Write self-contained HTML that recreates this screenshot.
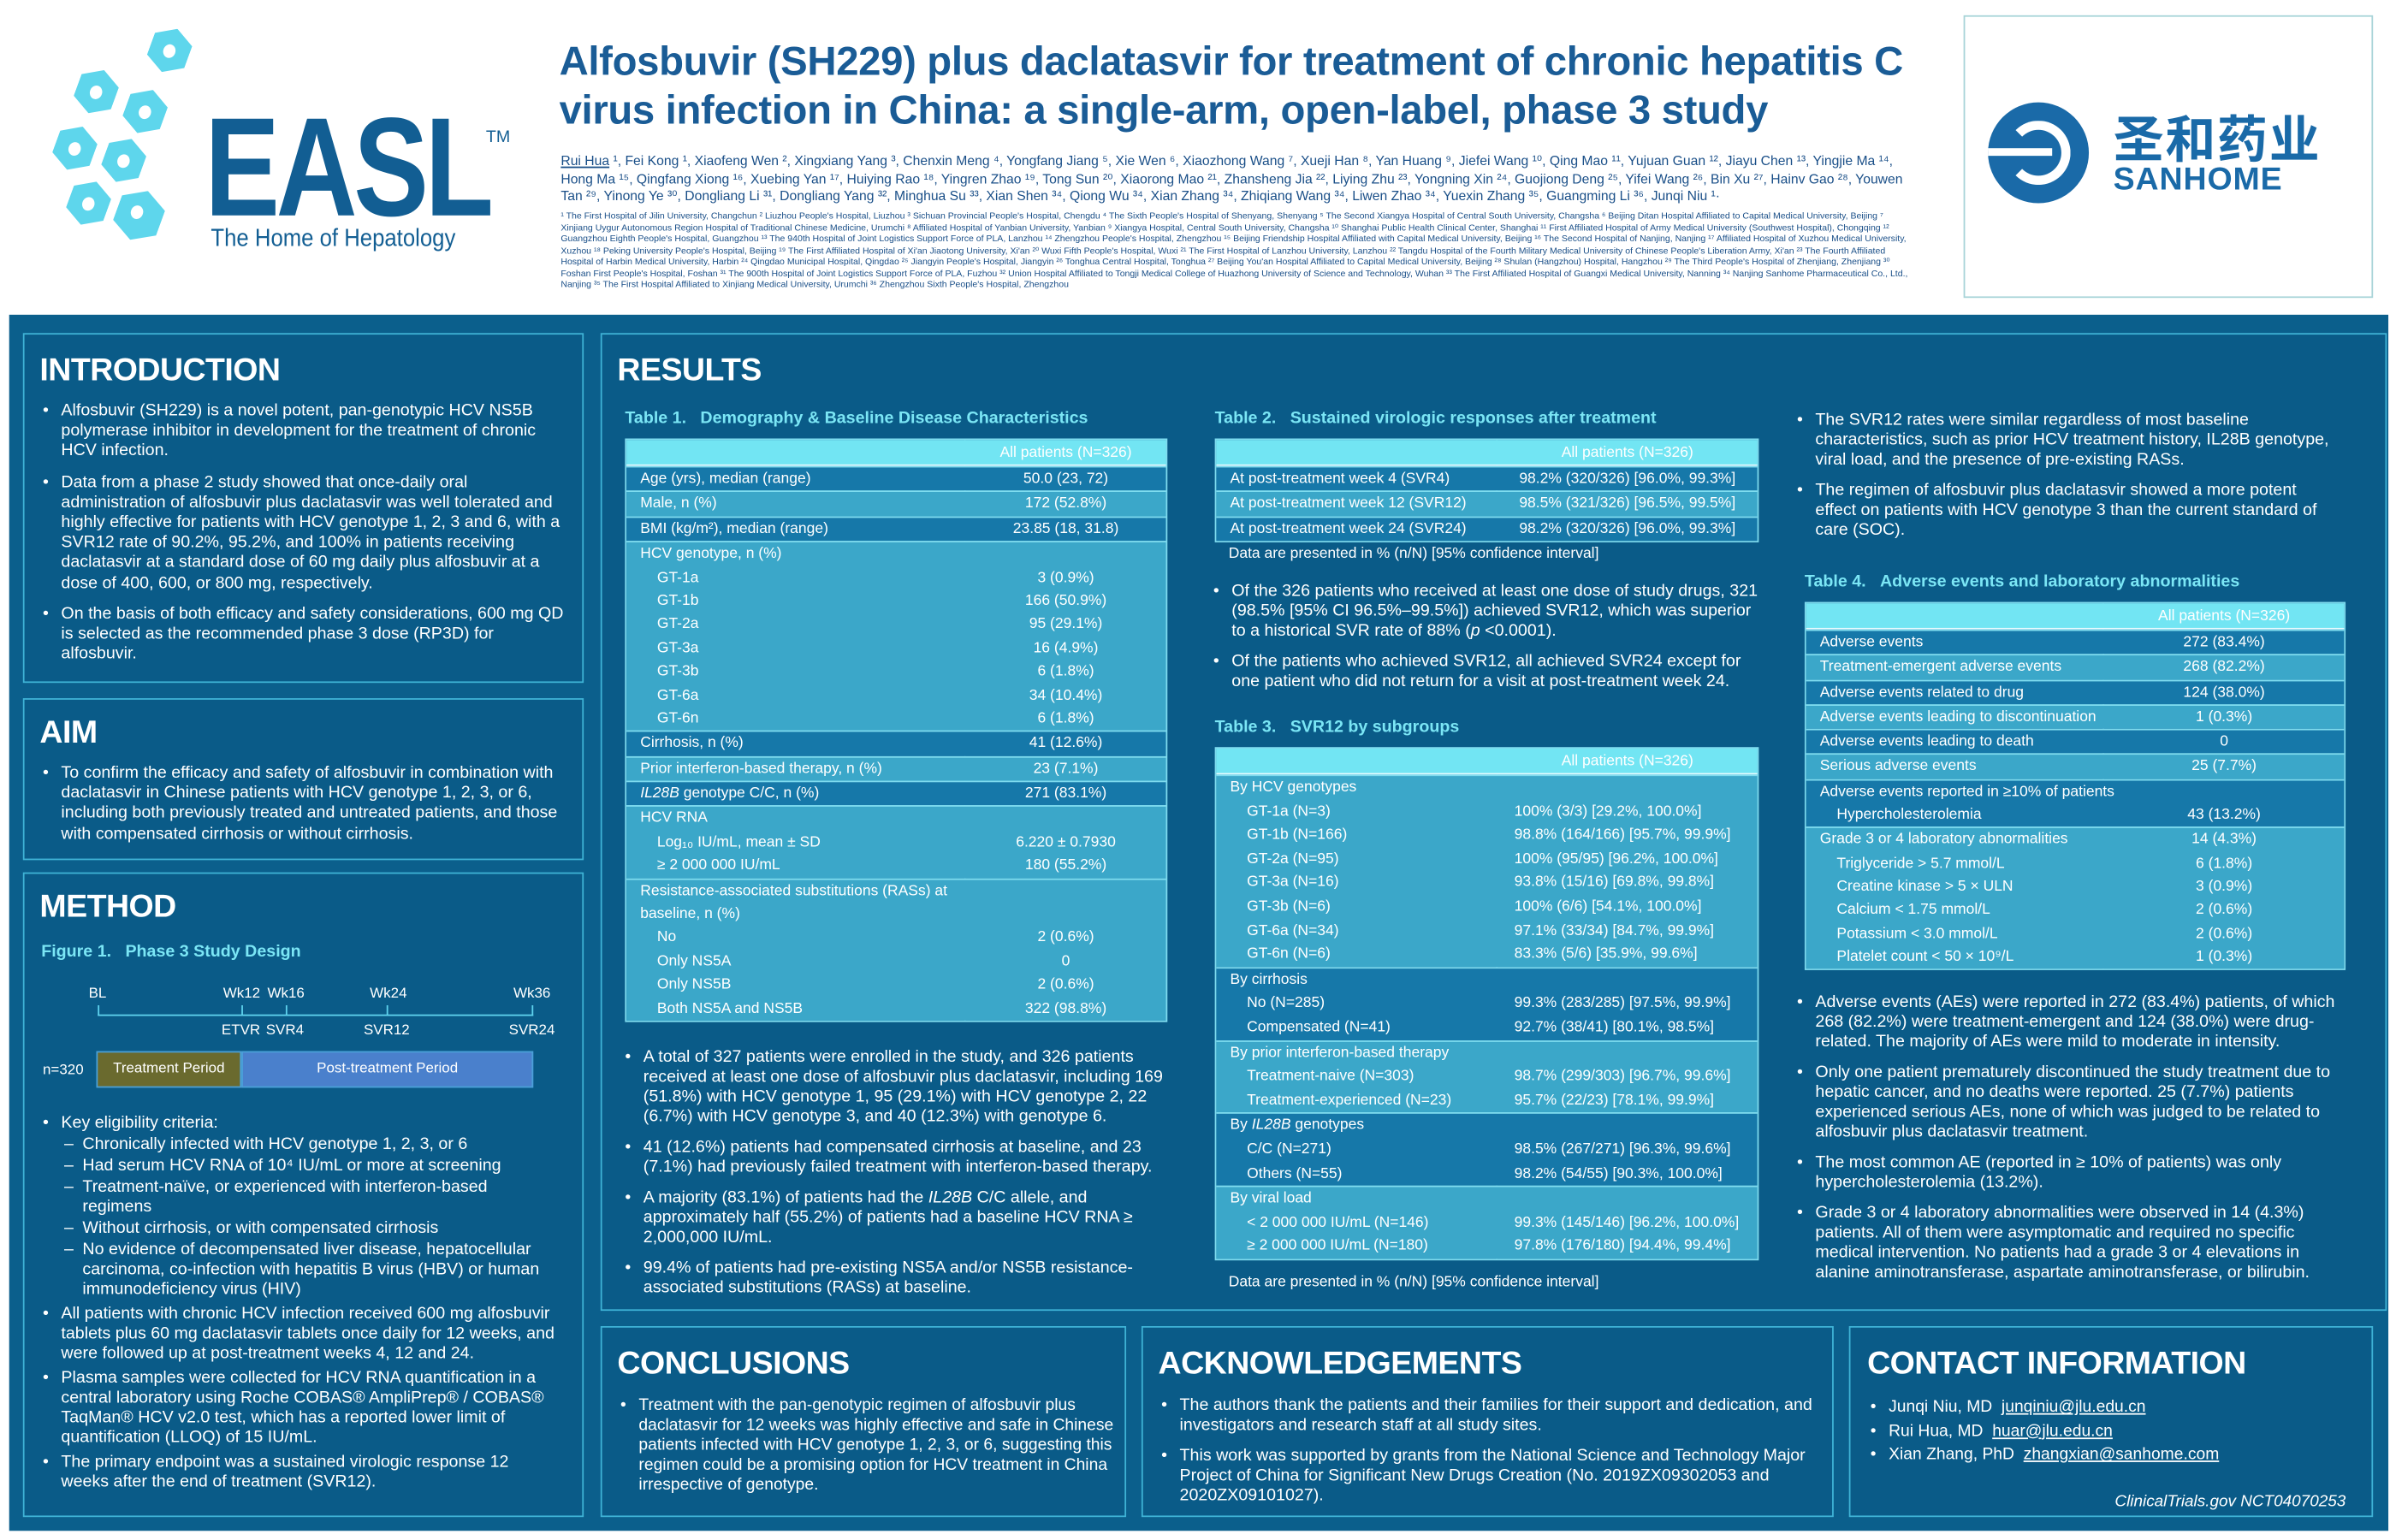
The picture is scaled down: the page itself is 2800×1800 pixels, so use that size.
<!DOCTYPE html>
<html><head><meta charset="utf-8"><style>
*{margin:0;padding:0;box-sizing:border-box}
html,body{width:2800px;height:1799px;overflow:hidden;background:#fff}
#s{position:absolute;left:0;top:0;width:1568px;height:1008px;transform:scale(1.7857);transform-origin:0 0;font-family:"Liberation Sans","Noto Sans CJK SC",sans-serif}
.a{position:absolute}
.panel{position:absolute;border:1px solid #3fb3d6;background:#0a5b88}
.h{position:absolute;color:#fff;font-weight:bold;font-size:21px;letter-spacing:-0.3px}
.cap{position:absolute;color:#7be6f5;font-weight:bold;font-size:11px}
.txt{position:absolute;color:#fff;font-size:11px;line-height:13.2px}
.txt ul{list-style:none}
.txt li{position:relative;padding-left:14px;margin-bottom:7px}
.txt li:before{content:"•";position:absolute;left:2px}
.txt li.sub{padding-left:28px;margin-bottom:1px}
.txt li.sub:before{content:"–";left:16px}
.tb{position:absolute;border:1px solid #7fdcef;font-size:9.8px;color:#fff}
.tb .hd{height:17px;background:#72e5f3;border-bottom:1px solid #e8fbff;position:relative}
.tb .g{position:relative;border-top:1px solid #7fdcef}
.tb .g.d{background:#1678a9}.tb .g.l{background:#3ba7c9}
.tb .r{height:var(--rh,16px);line-height:var(--rh,16px);position:relative;white-space:nowrap}
.tb .r span{position:absolute;left:9px}
.tb .r span.i{left:20px}
.tb .r b{position:absolute;font-weight:normal;text-align:center}
.vl{position:absolute;top:0;bottom:0;width:1px;background:#7fdcef}
.hex{position:absolute;width:26px;height:30px;background:#5ed6ec;clip-path:polygon(50% 0,100% 25%,100% 75%,50% 100%,0 75%,0 25%)}
.hex:after{content:"";position:absolute;left:9px;top:11px;width:8px;height:9px;border-radius:50%;background:#fff}
</style></head><body><div id="s">
<!-- header -->
<div class="hex" style="left:98px;top:18px;transform:rotate(20deg)"></div>
<div class="hex" style="left:50px;top:45px;transform:rotate(20deg)"></div>
<div class="hex" style="left:82px;top:58px;transform:rotate(20deg)"></div>
<div class="hex" style="left:36px;top:82px;transform:rotate(20deg)"></div>
<div class="hex" style="left:68px;top:90px;transform:rotate(20deg)"></div>
<div class="hex" style="left:45px;top:118px;transform:rotate(20deg)"></div>
<div class="hex" style="left:76px;top:124px;transform:rotate(20deg);width:30px;height:34px"></div>
<div class="a" style="left:134px;top:62px;font-size:92px;font-weight:bold;color:#125e93;letter-spacing:-3px;transform:scaleX(0.8);transform-origin:0 0;line-height:96px">EASL</div>
<div class="a" style="left:318px;top:84px;font-size:11px;color:#125e93">TM</div>
<div class="a" style="left:138px;top:148px;font-size:16px;color:#125e93;transform:scaleX(0.9);transform-origin:0 0">The Home of Hepatology</div>
<div class="a" style="left:366px;top:24px;font-size:26.5px;font-weight:bold;color:#1a5c96;line-height:32px;letter-spacing:-0.2px">Alfosbuvir (SH229) plus daclatasvir for treatment of chronic hepatitis C<br>virus infection in China: a single-arm, open-label, phase 3 study</div>
<div class="a" style="left:367px;top:100px;width:880px;font-size:8.8px;line-height:11.5px;color:#1a4f88"><u>Rui Hua</u> ¹, Fei Kong ¹, Xiaofeng Wen ², Xingxiang Yang ³, Chenxin Meng ⁴, Yongfang Jiang ⁵, Xie Wen ⁶, Xiaozhong Wang ⁷, Xueji Han ⁸, Yan Huang ⁹, Jiefei Wang ¹⁰, Qing Mao ¹¹, Yujuan Guan ¹², Jiayu Chen ¹³, Yingjie Ma ¹⁴, Hong Ma ¹⁵, Qingfang Xiong ¹⁶, Xuebing Yan ¹⁷, Huiying Rao ¹⁸, Yingren Zhao ¹⁹, Tong Sun ²⁰, Xiaorong Mao ²¹, Zhansheng Jia ²², Liying Zhu ²³, Yongning Xin ²⁴, Guojiong Deng ²⁵, Yifei Wang ²⁶, Bin Xu ²⁷, Hainv Gao ²⁸, Youwen Tan ²⁹, Yinong Ye ³⁰, Dongliang Li ³¹, Dongliang Yang ³², Minghua Su ³³, Xian Shen ³⁴, Qiong Wu ³⁴, Xian Zhang ³⁴, Zhiqiang Wang ³⁴, Liwen Zhao ³⁴, Yuexin Zhang ³⁵, Guangming Li ³⁶, Junqi Niu ¹·</div>
<div class="a" style="left:367px;top:139px;width:885px;font-size:5.9px;line-height:7.5px;color:#1a4f88">¹ The First Hospital of Jilin University, Changchun ² Liuzhou People's Hospital, Liuzhou ³ Sichuan Provincial People's Hospital, Chengdu ⁴ The Sixth People's Hospital of Shenyang, Shenyang ⁵ The Second Xiangya Hospital of Central South University, Changsha ⁶ Beijing Ditan Hospital Affiliated to Capital Medical University, Beijing ⁷ Xinjiang Uygur Autonomous Region Hospital of Traditional Chinese Medicine, Urumchi ⁸ Affiliated Hospital of Yanbian University, Yanbian ⁹ Xiangya Hospital, Central South University, Changsha ¹⁰ Shanghai Public Health Clinical Center, Shanghai ¹¹ First Affiliated Hospital of Army Medical University (Southwest Hospital), Chongqing ¹² Guangzhou Eighth People's Hospital, Guangzhou ¹³ The 940th Hospital of Joint Logistics Support Force of PLA, Lanzhou ¹⁴ Zhengzhou People's Hospital, Zhengzhou ¹⁵ Beijing Friendship Hospital Affiliated with Capital Medical University, Beijing ¹⁶ The Second Hospital of Nanjing, Nanjing ¹⁷ Affiliated Hospital of Xuzhou Medical University, Xuzhou ¹⁸ Peking University People's Hospital, Beijing ¹⁹ The First Affiliated Hospital of Xi'an Jiaotong University, Xi'an ²⁰ Wuxi Fifth People's Hospital, Wuxi ²¹ The First Hospital of Lanzhou University, Lanzhou ²² Tangdu Hospital of the Fourth Military Medical University of Chinese People's Liberation Army, Xi'an ²³ The Fourth Affiliated Hospital of Harbin Medical University, Harbin ²⁴ Qingdao Municipal Hospital, Qingdao ²⁵ Jiangyin People's Hospital, Jiangyin ²⁶ Tonghua Central Hospital, Tonghua ²⁷ Beijing You'an Hospital Affiliated to Capital Medical University, Beijing ²⁸ Shulan (Hangzhou) Hospital, Hangzhou ²⁹ The Third People's Hospital of Zhenjiang, Zhenjiang ³⁰ Foshan First People's Hospital, Foshan ³¹ The 900th Hospital of Joint Logistics Support Force of PLA, Fuzhou ³² Union Hospital Affiliated to Tongji Medical College of Huazhong University of Science and Technology, Wuhan ³³ The First Affiliated Hospital of Guangxi Medical University, Nanning ³⁴ Nanjing Sanhome Pharmaceutical Co., Ltd., Nanjing ³⁵ The First Hospital Affiliated to Xinjiang Medical University, Urumchi ³⁶ Zhengzhou Sixth People's Hospital, Zhengzhou</div>
<div class="a" style="left:1285px;top:10px;width:268px;height:185px;border:1px solid #a8d4d8;background:#fff"></div>
<div class="a" style="left:1301px;top:67px;width:66px;height:66px;border-radius:50%;background:#1a6aa8"></div>
<div class="a" style="left:1313px;top:79px;width:42px;height:42px;border-radius:50%;border:6px solid #fff;border-left-color:transparent"></div>
<div class="a" style="left:1301px;top:97px;width:42px;height:5px;background:#fff"></div>
<div class="a" style="left:1383px;top:70px;font-size:33px;font-weight:bold;color:#1a6aa8;line-height:38px;letter-spacing:1px;font-family:'Noto Sans CJK SC',sans-serif">圣和药业</div>
<div class="a" style="left:1383px;top:106px;font-size:21px;font-weight:bold;color:#1a6aa8;letter-spacing:0.5px">SANHOME</div>
<!-- body -->
<div class="a" style="left:6px;top:206px;width:1557px;height:796px;background:#0b5f8c"></div>
<div class="panel" style="left:15px;top:218px;width:367px;height:229px"></div>
<div class="panel" style="left:15px;top:457px;width:367px;height:106px"></div>
<div class="panel" style="left:15px;top:571px;width:367px;height:422px"></div>
<div class="panel" style="left:393px;top:218px;width:1169px;height:640px"></div>
<div class="panel" style="left:393px;top:868px;width:344px;height:125px"></div>
<div class="panel" style="left:747px;top:868px;width:453px;height:125px"></div>
<div class="panel" style="left:1210px;top:868px;width:343px;height:125px"></div>

<div class="h" style="left:26px;top:231px">INTRODUCTION</div>
<div class="txt" style="left:26px;top:263px;width:345px"><ul>
<li>Alfosbuvir (SH229) is a novel potent, pan-genotypic HCV NS5B polymerase inhibitor in development for the treatment of chronic HCV infection.</li>
<li>Data from a phase 2 study showed that once-daily oral administration of alfosbuvir plus daclatasvir was well tolerated and highly effective for patients with HCV genotype 1, 2, 3 and 6, with a SVR12 rate of 90.2%, 95.2%, and 100% in patients receiving daclatasvir at a standard dose of 60 mg daily plus alfosbuvir at a dose of 400, 600, or 800 mg, respectively.</li>
<li>On the basis of both efficacy and safety considerations, 600 mg QD is selected as the recommended phase 3 dose (RP3D) for alfosbuvir.</li></ul></div>
<div class="h" style="left:26px;top:468px">AIM</div>
<div class="txt" style="left:26px;top:500px;width:345px"><ul><li>To confirm the efficacy and safety of alfosbuvir in combination with daclatasvir in Chinese patients with HCV genotype 1, 2, 3, or 6, including both previously treated and untreated patients, and those with compensated cirrhosis or without cirrhosis.</li></ul></div>
<div class="h" style="left:26px;top:582px">METHOD</div>
<div class="cap" style="left:27px;top:617px">Figure 1.&nbsp;&nbsp;&nbsp;Phase 3 Study Design</div>
<div class="a" style="left:15px;top:640px;width:367px;height:80px;font-size:9.5px;color:#fff">
<span class="a" style="left:43px;top:5px">BL</span><span class="a" style="left:131px;top:5px">Wk12</span><span class="a" style="left:160px;top:5px">Wk16</span><span class="a" style="left:227px;top:5px">Wk24</span><span class="a" style="left:321px;top:5px">Wk36</span>
<div class="a" style="left:49px;top:24px;width:285px;height:1px;background:#5fd3ee"></div>
<div class="a" style="left:49px;top:18px;width:1px;height:7px;background:#5fd3ee"></div>
<div class="a" style="left:143px;top:18px;width:1px;height:7px;background:#5fd3ee"></div>
<div class="a" style="left:172px;top:18px;width:1px;height:7px;background:#5fd3ee"></div>
<div class="a" style="left:238px;top:18px;width:1px;height:7px;background:#5fd3ee"></div>
<div class="a" style="left:333px;top:18px;width:1px;height:7px;background:#5fd3ee"></div>
<span class="a" style="left:130px;top:29px">ETVR</span><span class="a" style="left:159px;top:29px">SVR4</span><span class="a" style="left:223px;top:29px">SVR12</span><span class="a" style="left:318px;top:29px">SVR24</span>
<span class="a" style="left:13px;top:55px">n=320</span>
<div class="a" style="left:48px;top:48px;width:95px;height:24px;background:#6a6a2e;border:1px solid #4aa0d8;text-align:center;line-height:22px">Treatment Period</div>
<div class="a" style="left:143px;top:48px;width:191px;height:24px;background:#4a80cc;border:1px solid #4aa0d8;text-align:center;line-height:22px">Post-treatment Period</div></div>
<div class="txt" style="left:26px;top:729px;width:340px;font-size:11px;line-height:13px"><ul>
<li style="margin-bottom:1px">Key eligibility criteria:</li>
<li class="sub">Chronically infected with HCV genotype 1, 2, 3, or 6</li>
<li class="sub">Had serum HCV RNA of 10⁴ IU/mL or more at screening</li>
<li class="sub">Treatment-naïve, or experienced with interferon-based regimens</li>
<li class="sub">Without cirrhosis, or with compensated cirrhosis</li>
<li class="sub" style="margin-bottom:3px">No evidence of decompensated liver disease, hepatocellular carcinoma, co-infection with hepatitis B virus (HBV) or human immunodeficiency virus (HIV)</li>
<li style="margin-bottom:3px">All patients with chronic HCV infection received 600 mg alfosbuvir tablets plus 60 mg daclatasvir tablets once daily for 12 weeks, and were followed up at post-treatment weeks 4, 12 and 24.</li>
<li style="margin-bottom:3px">Plasma samples were collected for HCV RNA quantification in a central laboratory using Roche COBAS® AmpliPrep® / COBAS® TaqMan® HCV v2.0 test, which has a reported lower limit of quantification (LLOQ) of 15 IU/mL.</li>
<li>The primary endpoint was a sustained virologic response 12 weeks after the end of treatment (SVR12).</li></ul></div>

<div class="h" style="left:404px;top:231px">RESULTS</div>
<div class="cap" style="left:409px;top:268px">Table 1.&nbsp;&nbsp;&nbsp;Demography &amp; Baseline Disease Characteristics</div>
<div class="tb" style="left:409px;top:287px;width:355px;--rh:15.4px">
<div class="vl" style="left:221px"></div>
<div class="hd"><b class="a" style="left:221px;width:133px;text-align:center;top:3px;font-weight:normal">All patients (N=326)</b></div>
<div class="g d"><div class="r"><span>Age (yrs), median (range)</span><b style="left:221px;width:133px">50.0 (23, 72)</b></div></div>
<div class="g l"><div class="r"><span>Male, n (%)</span><b style="left:221px;width:133px">172 (52.8%)</b></div></div>
<div class="g d"><div class="r"><span>BMI (kg/m²), median (range)</span><b style="left:221px;width:133px">23.85 (18, 31.8)</b></div></div>
<div class="g l"><div class="r"><span>HCV genotype, n (%)</span></div>
<div class="r"><span class="i">GT-1a</span><b style="left:221px;width:133px">3 (0.9%)</b></div>
<div class="r"><span class="i">GT-1b</span><b style="left:221px;width:133px">166 (50.9%)</b></div>
<div class="r"><span class="i">GT-2a</span><b style="left:221px;width:133px">95 (29.1%)</b></div>
<div class="r"><span class="i">GT-3a</span><b style="left:221px;width:133px">16 (4.9%)</b></div>
<div class="r"><span class="i">GT-3b</span><b style="left:221px;width:133px">6 (1.8%)</b></div>
<div class="r"><span class="i">GT-6a</span><b style="left:221px;width:133px">34 (10.4%)</b></div>
<div class="r"><span class="i">GT-6n</span><b style="left:221px;width:133px">6 (1.8%)</b></div></div>
<div class="g d"><div class="r"><span>Cirrhosis, n (%)</span><b style="left:221px;width:133px">41 (12.6%)</b></div></div>
<div class="g l"><div class="r"><span>Prior interferon-based therapy, n (%)</span><b style="left:221px;width:133px">23 (7.1%)</b></div></div>
<div class="g d"><div class="r"><span><i>IL28B</i> genotype C/C, n (%)</span><b style="left:221px;width:133px">271 (83.1%)</b></div></div>
<div class="g l"><div class="r"><span>HCV RNA</span></div>
<div class="r"><span class="i">Log₁₀ IU/mL, mean ± SD</span><b style="left:221px;width:133px">6.220 ± 0.7930</b></div>
<div class="r"><span class="i">≥ 2 000 000 IU/mL</span><b style="left:221px;width:133px">180 (55.2%)</b></div></div>
<div class="g l"><div class="r"><span>Resistance-associated substitutions (RASs) at</span></div><div class="r"><span>baseline, n (%)</span></div>
<div class="r"><span class="i">No</span><b style="left:221px;width:133px">2 (0.6%)</b></div>
<div class="r"><span class="i">Only NS5A</span><b style="left:221px;width:133px">0</b></div>
<div class="r"><span class="i">Only NS5B</span><b style="left:221px;width:133px">2 (0.6%)</b></div>
<div class="r"><span class="i">Both NS5A and NS5B</span><b style="left:221px;width:133px">322 (98.8%)</b></div></div>
</div>
<div class="txt" style="left:407px;top:686px;width:356px;font-size:11px;line-height:13px"><ul>
<li>A total of 327 patients were enrolled in the study, and 326 patients received at least one dose of alfosbuvir plus daclatasvir, including 169 (51.8%) with HCV genotype 1, 95 (29.1%) with HCV genotype 2, 22 (6.7%) with HCV genotype 3, and 40 (12.3%) with genotype 6.</li>
<li>41 (12.6%) patients had compensated cirrhosis at baseline, and 23 (7.1%) had previously failed treatment with interferon-based therapy.</li>
<li>A majority (83.1%) of patients had the <i>IL28B</i> C/C allele, and approximately half (55.2%) of patients had a baseline HCV RNA ≥ 2,000,000 IU/mL.</li>
<li>99.4% of patients had pre-existing NS5A and/or NS5B resistance-associated substitutions (RASs) at baseline.</li></ul></div>

<div class="cap" style="left:795px;top:268px">Table 2.&nbsp;&nbsp;&nbsp;Sustained virologic responses after treatment</div>
<div class="tb" style="left:795px;top:287px;width:356px;--rh:15.4px">
<div class="vl" style="left:183px"></div>
<div class="hd"><b class="a" style="left:183px;width:172px;text-align:center;top:3px;font-weight:normal">All patients (N=326)</b></div>
<div class="g d"><div class="r"><span>At post-treatment week 4 (SVR4)</span><b style="left:183px;width:172px">98.2% (320/326) [96.0%, 99.3%]</b></div></div>
<div class="g l"><div class="r"><span>At post-treatment week 12 (SVR12)</span><b style="left:183px;width:172px">98.5% (321/326) [96.5%, 99.5%]</b></div></div>
<div class="g d"><div class="r"><span>At post-treatment week 24 (SVR24)</span><b style="left:183px;width:172px">98.2% (320/326) [96.0%, 99.3%]</b></div></div></div>
<div class="a" style="left:804px;top:357px;font-size:9.8px;color:#fff">Data are presented in % (n/N) [95% confidence interval]</div>
<div class="txt" style="left:792px;top:381px;width:362px;font-size:11px;line-height:13px"><ul>
<li>Of the 326 patients who received at least one dose of study drugs, 321 (98.5% [95% CI 96.5%–99.5%]) achieved SVR12, which was superior to a historical SVR rate of 88% (<i>p</i> &lt;0.0001).</li>
<li>Of the patients who achieved SVR12, all achieved SVR24 except for one patient who did not return for a visit at post-treatment week 24.</li></ul></div>

<div class="cap" style="left:795px;top:470px">Table 3.&nbsp;&nbsp;&nbsp;SVR12 by subgroups</div>
<div class="tb" style="left:795px;top:489px;width:356px;--rh:15.6px">
<div class="vl" style="left:183px"></div>
<div class="hd"><b class="a" style="left:183px;width:172px;text-align:center;top:3px;font-weight:normal">All patients (N=326)</b></div>
<div class="g l"><div class="r"><span>By HCV genotypes</span></div>
<div class="r"><span class="i">GT-1a (N=3)</span><b style="left:183px;width:172px;text-align:left;padding-left:12px">100% (3/3) [29.2%, 100.0%]</b></div>
<div class="r"><span class="i">GT-1b (N=166)</span><b style="left:183px;width:172px;text-align:left;padding-left:12px">98.8% (164/166) [95.7%, 99.9%]</b></div>
<div class="r"><span class="i">GT-2a (N=95)</span><b style="left:183px;width:172px;text-align:left;padding-left:12px">100% (95/95) [96.2%, 100.0%]</b></div>
<div class="r"><span class="i">GT-3a (N=16)</span><b style="left:183px;width:172px;text-align:left;padding-left:12px">93.8% (15/16) [69.8%, 99.8%]</b></div>
<div class="r"><span class="i">GT-3b (N=6)</span><b style="left:183px;width:172px;text-align:left;padding-left:12px">100% (6/6) [54.1%, 100.0%]</b></div>
<div class="r"><span class="i">GT-6a (N=34)</span><b style="left:183px;width:172px;text-align:left;padding-left:12px">97.1% (33/34) [84.7%, 99.9%]</b></div>
<div class="r"><span class="i">GT-6n (N=6)</span><b style="left:183px;width:172px;text-align:left;padding-left:12px">83.3% (5/6) [35.9%, 99.6%]</b></div></div>
<div class="g d"><div class="r"><span>By cirrhosis</span></div>
<div class="r"><span class="i">No (N=285)</span><b style="left:183px;width:172px;text-align:left;padding-left:12px">99.3% (283/285) [97.5%, 99.9%]</b></div>
<div class="r"><span class="i">Compensated (N=41)</span><b style="left:183px;width:172px;text-align:left;padding-left:12px">92.7% (38/41) [80.1%, 98.5%]</b></div></div>
<div class="g l"><div class="r"><span>By prior interferon-based therapy</span></div>
<div class="r"><span class="i">Treatment-naive (N=303)</span><b style="left:183px;width:172px;text-align:left;padding-left:12px">98.7% (299/303) [96.7%, 99.6%]</b></div>
<div class="r"><span class="i">Treatment-experienced (N=23)</span><b style="left:183px;width:172px;text-align:left;padding-left:12px">95.7% (22/23) [78.1%, 99.9%]</b></div></div>
<div class="g d"><div class="r"><span>By <i>IL28B</i> genotypes</span></div>
<div class="r"><span class="i">C/C (N=271)</span><b style="left:183px;width:172px;text-align:left;padding-left:12px">98.5% (267/271) [96.3%, 99.6%]</b></div>
<div class="r"><span class="i">Others (N=55)</span><b style="left:183px;width:172px;text-align:left;padding-left:12px">98.2% (54/55) [90.3%, 100.0%]</b></div></div>
<div class="g l"><div class="r"><span>By viral load</span></div>
<div class="r"><span class="i">&lt; 2 000 000 IU/mL (N=146)</span><b style="left:183px;width:172px;text-align:left;padding-left:12px">99.3% (145/146) [96.2%, 100.0%]</b></div>
<div class="r"><span class="i">≥ 2 000 000 IU/mL (N=180)</span><b style="left:183px;width:172px;text-align:left;padding-left:12px">97.8% (176/180) [94.4%, 99.4%]</b></div></div></div>
<div class="a" style="left:804px;top:834px;font-size:9.8px;color:#fff">Data are presented in % (n/N) [95% confidence interval]</div>

<div class="txt" style="left:1174px;top:269px;width:356px;font-size:11px;line-height:13px"><ul>
<li>The SVR12 rates were similar regardless of most baseline characteristics, such as prior HCV treatment history, IL28B genotype, viral load, and the presence of pre-existing RASs.</li>
<li>The regimen of alfosbuvir plus daclatasvir showed a more potent effect on patients with HCV genotype 3 than the current standard of care (SOC).</li></ul></div>
<div class="cap" style="left:1181px;top:375px">Table 4.&nbsp;&nbsp;&nbsp;Adverse events and laboratory abnormalities</div>
<div class="tb" style="left:1181px;top:394px;width:354px;--rh:15.3px">
<div class="vl" style="left:194px"></div>
<div class="hd"><b class="a" style="left:194px;width:159px;text-align:center;top:3px;font-weight:normal">All patients (N=326)</b></div>
<div class="g d"><div class="r"><span>Adverse events</span><b style="left:194px;width:159px">272 (83.4%)</b></div></div>
<div class="g l"><div class="r"><span>Treatment-emergent adverse events</span><b style="left:194px;width:159px">268 (82.2%)</b></div></div>
<div class="g d"><div class="r"><span>Adverse events related to drug</span><b style="left:194px;width:159px">124 (38.0%)</b></div></div>
<div class="g l"><div class="r"><span>Adverse events leading to discontinuation</span><b style="left:194px;width:159px">1 (0.3%)</b></div></div>
<div class="g d"><div class="r"><span>Adverse events leading to death</span><b style="left:194px;width:159px">0</b></div></div>
<div class="g l"><div class="r"><span>Serious adverse events</span><b style="left:194px;width:159px">25 (7.7%)</b></div></div>
<div class="g d"><div class="r"><span>Adverse events reported in ≥10% of patients</span></div>
<div class="r"><span class="i">Hypercholesterolemia</span><b style="left:194px;width:159px">43 (13.2%)</b></div></div>
<div class="g l"><div class="r"><span>Grade 3 or 4 laboratory abnormalities</span><b style="left:194px;width:159px">14 (4.3%)</b></div>
<div class="r"><span class="i">Triglyceride &gt; 5.7 mmol/L</span><b style="left:194px;width:159px">6 (1.8%)</b></div>
<div class="r"><span class="i">Creatine kinase &gt; 5 × ULN</span><b style="left:194px;width:159px">3 (0.9%)</b></div>
<div class="r"><span class="i">Calcium &lt; 1.75 mmol/L</span><b style="left:194px;width:159px">2 (0.6%)</b></div>
<div class="r"><span class="i">Potassium &lt; 3.0 mmol/L</span><b style="left:194px;width:159px">2 (0.6%)</b></div>
<div class="r"><span class="i">Platelet count &lt; 50 × 10⁹/L</span><b style="left:194px;width:159px">1 (0.3%)</b></div></div></div>
<div class="txt" style="left:1174px;top:650px;width:362px;font-size:11px;line-height:13px"><ul>
<li>Adverse events (AEs) were reported in 272 (83.4%) patients, of which 268 (82.2%) were treatment-emergent and 124 (38.0%) were drug-related. The majority of AEs were mild to moderate in intensity.</li>
<li>Only one patient prematurely discontinued the study treatment due to hepatic cancer, and no deaths were reported. 25 (7.7%) patients experienced serious AEs, none of which was judged to be related to alfosbuvir plus daclatasvir treatment.</li>
<li>The most common AE (reported in ≥ 10% of patients) was only hypercholesterolemia (13.2%).</li>
<li>Grade 3 or 4 laboratory abnormalities were observed in 14 (4.3%) patients. All of them were asymptomatic and required no specific medical intervention. No patients had a grade 3 or 4 elevations in alanine aminotransferase, aspartate aminotransferase, or bilirubin.</li></ul></div>

<div class="h" style="left:404px;top:881px">CONCLUSIONS</div>
<div class="txt" style="left:404px;top:914px;width:325px;font-size:10.8px;line-height:13px"><ul><li>Treatment with the pan-genotypic regimen of alfosbuvir plus daclatasvir for 12 weeks was highly effective and safe in Chinese patients infected with HCV genotype 1, 2, 3, or 6, suggesting this regimen could be a promising option for HCV treatment in China irrespective of genotype.</li></ul></div>
<div class="h" style="left:758px;top:881px">ACKNOWLEDGEMENTS</div>
<div class="txt" style="left:758px;top:914px;width:430px;font-size:11px;line-height:13px"><ul><li>The authors thank the patients and their families for their support and dedication, and investigators and research staff at all study sites.</li>
<li>This work was supported by grants from the National Science and Technology Major Project of China for Significant New Drugs Creation (No. 2019ZX09302053 and 2020ZX09101027).</li></ul></div>
<div class="h" style="left:1222px;top:881px">CONTACT INFORMATION</div>
<div class="txt" style="left:1222px;top:914px;width:330px;font-size:10.8px;line-height:15.5px"><ul>
<li style="margin:0">Junqi Niu, MD&nbsp; <u>junqiniu@jlu.edu.cn</u></li>
<li style="margin:0">Rui Hua, MD&nbsp; <u>huar@jlu.edu.cn</u></li>
<li style="margin:0">Xian Zhang, PhD&nbsp; <u>zhangxian@sanhome.com</u></li></ul></div>
<div class="a" style="left:1384px;top:977px;font-size:10.6px;color:#fff;font-style:italic">ClinicalTrials.gov NCT04070253</div>
</div></body></html>
